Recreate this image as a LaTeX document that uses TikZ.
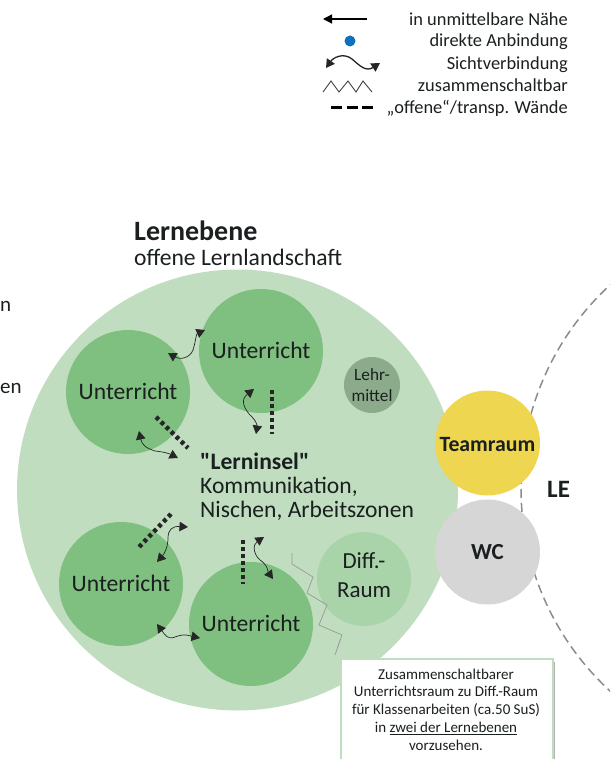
\documentclass[tikz,border=0pt]{standalone}
\usepackage{fontspec}
\setmainfont{Carlito}
\usetikzlibrary{arrows.meta}
\definecolor{bigc}{HTML}{C0DEBF}
\definecolor{uc}{HTML}{7FBF80}
\definecolor{diffc}{HTML}{A9D3A9}
\definecolor{lehrc}{HTML}{8CAB8A}
\definecolor{teamc}{HTML}{EFD651}
\definecolor{wcc}{HTML}{D6D6D6}
\definecolor{txt}{HTML}{1A1F1F}
\definecolor{dotc}{HTML}{0A70C0}
\newcommand{\sq}{\XeTeXglyph\XeTeXcharglyph34\relax}
\tikzset{
  room/.style={circle,inner sep=0pt,align=center,text=txt},
  unter/.style={room,fill=uc,minimum size=124pt},
  unterlabel/.style={inner sep=0pt,text=txt,font=\fontsize{23.6}{28}\selectfont},
  wave/.style={draw=black!85,line width=0.7pt,{Triangle[length=8.5pt,width=9.5pt]}-{Triangle[length=8.5pt,width=9.5pt]}},
  opn/.style={draw=black!85,line width=4.5pt,dash pattern=on 3.8pt off 3.2pt},
  legtxt/.style={anchor=east,inner sep=0pt,text=txt,font=\fontsize{18.4}{22}\selectfont},
  main/.style={anchor=west,inner sep=0pt,text=txt,font=\fontsize{23.6}{28}\selectfont}
}
\begin{document}
\begin{tikzpicture}[x=1pt,y=-1pt]
\useasboundingbox (0,0) rectangle (613,759);
% dashed LE circle
\begin{scope}
\clip (500,270) rectangle (610,695);
\node[circle,draw=black!45,line width=1.5pt,dash pattern=on 9pt off 5pt,minimum size=552pt,inner sep=0pt] (lecircle) at (797,488) {};
\end{scope}
% main circle
\node[circle,fill=bigc,minimum size=441pt,inner sep=0pt] (big) at (237.5,490) {};
\node[circle,fill=diffc,minimum size=94pt,inner sep=0pt] (diff) at (364,579) {};
\node[inner sep=0pt,align=center,text=txt,font=\fontsize{23}{29}\selectfont] (difft) at (364,575) {Diff.-\\Raum};
\node[room,fill=lehrc,minimum size=56pt,font=\fontsize{17.2}{21}\selectfont] (lehr) at (372,385) {Lehr-\\mittel};
\node[unter] (u1) at (128,392) {};
\node[unter] (u2) at (261,351) {};
\node[unter] (u3) at (121,584) {};
\node[unter] (u4) at (251,624) {};
\node[unterlabel] (u1t) at (128,391) {Unterricht};
\node[unterlabel] (u2t) at (261,350) {Unterricht};
\node[unterlabel] (u3t) at (121,583) {Unterricht};
\node[unterlabel] (u4t) at (251,623) {Unterricht};
\node[circle,fill=teamc,minimum size=105pt,inner sep=0pt] (team) at (487.5,443) {};
\node[inner sep=0pt,text=txt,font=\bfseries\fontsize{21.8}{26}\selectfont] (teamt) at (487.5,444.5) {Teamraum};
\node[room,fill=wcc,minimum size=105pt,font=\bfseries\fontsize{23}{28}\selectfont] (wc) at (487.5,552) {WC};
\node[anchor=west,inner sep=0pt,text=txt,font=\bfseries\fontsize{25}{30}\selectfont] (le) at (547,489) {LE};
% zigzag wall
\coordinate (z0) at (292,553);
\coordinate (z9) at (340,640);
\draw[draw=black!40,line width=0.7pt] (z0) -- (292,564) -- (313,577) -- (307,593) -- (327,605) -- (319,625) -- (342,635) -- (335,655) -- (z9);
% open walls
\coordinate (d1a) at (156,417); \coordinate (d1b) at (188,448);
\coordinate (d2a) at (272,390); \coordinate (d2b) at (272,434);
\coordinate (d3a) at (171,514); \coordinate (d3b) at (139,547);
\coordinate (d4a) at (243,540); \coordinate (d4b) at (243,584);
\draw[opn] (d1a) -- (d1b);
\draw[opn] (d2a) -- (d2b);
\draw[opn] (d3a) -- (d3b);
\draw[opn] (d4a) -- (d4b);
% sight links
\coordinate (w1a) at (168,353); \coordinate (w1b) at (205,330);
\coordinate (w2a) at (139,431); \coordinate (w2b) at (178,458);
\coordinate (w3a) at (254,389); \coordinate (w3b) at (256,434);
\coordinate (w4a) at (188,527); \coordinate (w4b) at (157,562);
\coordinate (w5a) at (264,537); \coordinate (w5b) at (273,579);
\coordinate (w6a) at (157,624); \coordinate (w6b) at (200,638);
\draw[wave] (w1a) .. controls (180,360) and (190,358) .. (193,350) .. controls (196,340) and (196,334) .. (w1b);
\draw[wave] (w2a) .. controls (142,445) and (146,448) .. (155,451) .. controls (165,452) and (170,454) .. (w2b);
\draw[wave] (w3a) .. controls (240,400) and (244,408) .. (250,415) .. controls (258,422) and (257,428) .. (w3b);
\draw[wave] (w4a) .. controls (172,526) and (168,530) .. (168,538) .. controls (168,546) and (165,553) .. (w4b);
\draw[wave] (w5a) .. controls (252,545) and (254,555) .. (260,560) .. controls (268,565) and (268,572) .. (w5b);
\draw[wave] (w6a) .. controls (165,635) and (168,640) .. (175,637) .. controls (185,633) and (190,636) .. (w6b);
% titles
\node[main,font=\bfseries\fontsize{28}{32}\selectfont] (t1) at (134,231) {Lernebene};
\node[main] (t2) at (134,257) {offene Lernlandschaft};
\node[main,align=left,font=\fontsize{23.6}{24.2}\selectfont] (t3) at (200,487) {{\bfseries \sq Lerninsel\sq}\\Kommunikation,\\Nischen, Arbeitszonen};
\node[main,font=\fontsize{21}{25}\selectfont] (c1) at (0,306) {n};
\node[main,font=\fontsize{21}{25}\selectfont] (c2) at (0,388) {en};
% note box
\path[fill=black!30] (345,662) rectangle (555,759);
\node[draw=bigc,line width=1.5pt,fill=white,minimum width=212pt,minimum height=106pt,anchor=north west,inner sep=0pt] (box) at (340,658) {};
\node[anchor=north,align=center,inner sep=0pt,text=txt,font=\fontsize{15}{17.8}\selectfont] (boxt) at (446,668.5) {Zusammenschaltbarer\\Unterrichtsraum zu Diff.-Raum\\für Klassenarbeiten (ca.50 SuS)\\in \underline{zwei der Lernebenen}\\vorzusehen.};
% legend
\coordinate (l1a) at (367,19); \coordinate (l1b) at (323,19);
\draw[draw=black,line width=1.2pt,-{Triangle[length=9pt,width=9pt]}] (l1a) -- (l1b);
\node[circle,fill=dotc,minimum size=11pt,inner sep=0pt] (dot) at (350,41) {};
\coordinate (l3a) at (326,68); \coordinate (l3b) at (380,63);
\draw[wave,line width=1.3pt] (l3a) .. controls (333,58) and (343,52) .. (352,59) .. controls (360,66) and (366,72) .. (l3b);
\draw[draw=black!75,line width=0.9pt] (323,92) -- (331,81) -- (339,92) -- (348,81) -- (356,92) -- (363,81) -- (372,92);
\coordinate (l5a) at (331,108); \coordinate (l5b) at (373,108);
\draw[draw=black,line width=3pt,dash pattern=on 11pt off 4.5pt] (l5a) -- (l5b);
\node[legtxt] (lt1) at (568,19.5) {in unmittelbare Nähe};
\node[legtxt] (lt2) at (568,41.5) {direkte Anbindung};
\node[legtxt] (lt3) at (568,64.5) {Sichtverbindung};
\node[legtxt] (lt4) at (568,85.5) {zusammenschaltbar};
\node[legtxt] (lt5) at (568,108.5) {„offene“/transp. Wände};
\end{tikzpicture}
\end{document}
